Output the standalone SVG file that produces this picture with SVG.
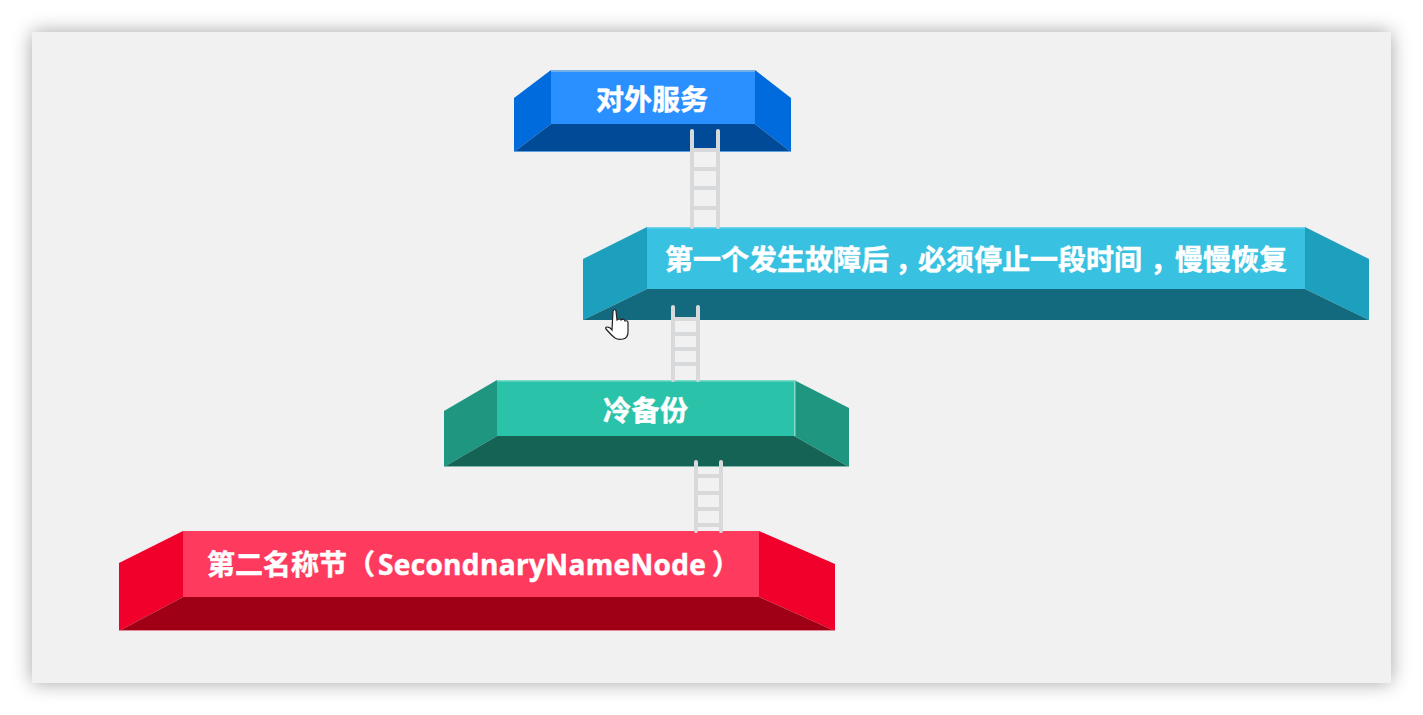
<svg xmlns="http://www.w3.org/2000/svg" width="1423" height="715" viewBox="0 0 1423 715">
<style>
.t{font-family:"Noto Sans CJK SC","Open Sans",sans-serif;font-weight:700;fill:#fff;stroke:#fff;stroke-width:.5;font-size:28px}
.tc{font-family:"Noto Sans CJK TC",sans-serif}
.lat{font-family:"Open Sans","Noto Sans CJK SC",sans-serif;font-size:28px;letter-spacing:.35px}
.rail{stroke:#d8d9db;stroke-width:4;fill:none;stroke-linecap:round}
.rung{stroke:#d8d9db;stroke-width:4;fill:none}
</style>
<defs>
<filter id="sh" x="-5%" y="-8%" width="110%" height="116%"><feGaussianBlur stdDeviation="10"/></filter>
</defs>
<rect width="1423" height="715" fill="#ffffff"/>
<rect x="32" y="32" width="1359" height="651" fill="#000" opacity=".36" filter="url(#sh)"/>
<rect x="32" y="32" width="1359" height="651" fill="#f1f1f1"/>

<g id="node-1">
<polygon points="514,98 551,70 551,124 514,152" fill="#006bdc"/>
<polygon points="791,98 755,70 755,124 791,152" fill="#006bdc"/>
<polygon points="551,124 755,124 791,152 514,152" fill="#014a97"/>
<rect x="551" y="70" width="204" height="54" fill="#2b90ff"/>
<rect x="551" y="70" width="204" height="2" fill="#73aee8"/>
<rect x="514" y="151" width="277" height="1" fill="#5f9fe0"/>
<text class="t" x="596" y="110" textLength="112">对外服务</text>
</g>
<g id="node-2">
<polygon points="583,259 647,227 647,289 583,320" fill="#1ca0bd"/>
<polygon points="1369,259 1305,227 1305,289 1369,320" fill="#1ca0bd"/>
<polygon points="647,289 1305,289 1369,320 583,320" fill="#136a7e"/>
<rect x="647" y="227" width="658" height="62" fill="#38c1e1"/>
<rect x="647" y="227" width="658" height="1.5" fill="#6fd3ea"/>
<text class="t" y="270"><tspan x="665">第一个发生故障后</tspan><tspan class="tc" x="889" y="280">，</tspan><tspan x="918" y="270">必须停止一段时间</tspan><tspan class="tc" x="1144" y="280">，</tspan><tspan x="1175" y="270">慢慢恢复</tspan></text>
</g>
<g id="node-3">
<polygon points="444,411 497,380 497,436 444,467" fill="#1f9680"/>
<polygon points="849,408 794,380 794,436 849,467" fill="#1f9680"/>
<polygon points="497,436 794,436 849,467 444,467" fill="#156355"/>
<rect x="497" y="380" width="297" height="56" fill="#2ac2a9"/>
<rect x="497" y="380" width="297" height="1.5" fill="#7fdccb"/>
<rect x="794" y="380" width="1.5" height="56" fill="#7fdccb"/>
<rect x="444" y="466" width="405" height="1" fill="#7fb8ad"/>
<text class="t" x="603" y="421" textLength="85">冷备份</text>
</g>
<g id="node-4">
<polygon points="119,563 183,531 183,597 119,631" fill="#f0002b"/>
<polygon points="835,564 759,531 759,597 835,631" fill="#f0002b"/>
<polygon points="183,597 759,597 835,631 119,631" fill="#a00016"/>
<rect x="183" y="531" width="576" height="66" fill="#fe3b5e"/>
<rect x="119" y="630" width="716" height="1" fill="#e08a98"/>
<text class="t" y="575"><tspan x="207">第二名称节</tspan><tspan x="347">（</tspan><tspan class="lat" x="378">SecondnaryNameNode</tspan><tspan x="712">）</tspan></text>
</g>

<g id="connectors">
<path class="rail" d="M692 131V227M718 131V227"/>
<path class="rung" d="M692 150H718M692 169H718M692 188H718M692 208H718"/>
<path class="rail" d="M673 307V380M698 307V380"/>
<path class="rung" d="M673 319H698M673 334H698M673 349H698M673 364H698"/>
<path class="rail" d="M696 462V531M721 462V531"/>
<path class="rung" d="M696 476H721M696 493H721M696 509H721M696 525H721"/>
</g>

<path d="M613 311q2-3 3 0l1 9q3-2 4 0q3-2 4 1q3-1 3 2v9q0 6-5 7q-5 1-8-1q-4-3-9-9q-1-2 1-2q3 0 5 3z" fill="#fff" stroke="#222" stroke-width="1.2"/>
</svg>
